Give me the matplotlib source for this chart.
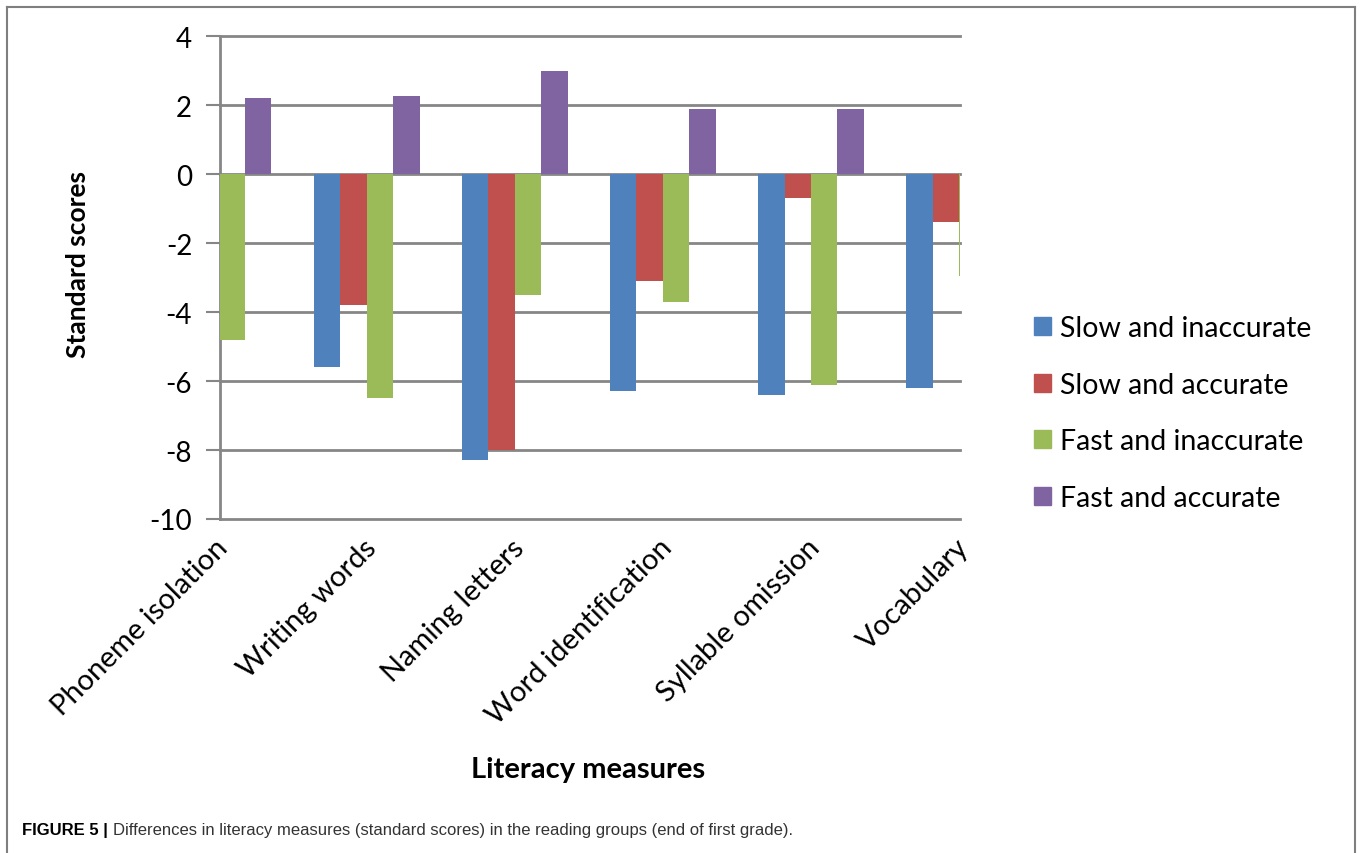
import matplotlib.pyplot as plt
import numpy as np
from matplotlib.lines import Line2D
from matplotlib.patches import Patch
from matplotlib.transforms import blended_transform_factory

# values; nan where the bar falls outside the plot area
measures = ["Phoneme isolation", "Writing words", "Naming letters",
            "Word identification", "Syllable omission", "Vocabulary"]
groups = ["Slow and inaccurate", "Slow and accurate",
          "Fast and inaccurate", "Fast and accurate"]
slow_inaccurate = [np.nan, -5.6, -8.3, -6.3, -6.4, -6.2]
slow_accurate = [np.nan, -3.8, -8.0, -3.1, -0.7, -1.4]
fast_inaccurate = [-4.8, -6.5, -3.5, -3.7, -6.1, -2.95]
fast_accurate = [2.2, 2.27, 3.0, 1.9, 1.9, np.nan]
yticks = [4, 2, 0, -2, -4, -6, -8, -10]

colors = ["#4F81BD", "#C0504D", "#9BBB59", "#8064A2"]
grid_col = "#868686"
font = ["Lato", "DejaVu Sans"]

W, H = 1360, 854
fig = plt.figure(figsize=(W / 100, H / 100), dpi=100)
ax = fig.add_axes([220 / W, 1 - 520 / H, 740 / W, 482.7 / H])

x = np.arange(len(measures))
w = 0.1786
series = [slow_inaccurate, slow_accurate, fast_inaccurate, fast_accurate]
for k, (vals, c) in enumerate(zip(series, colors)):
    ax.bar(x + (k - 1.5) * w, vals, width=w, color=c, zorder=3)

ax.set_xlim(0.01, 5.006)
ax.set_ylim(-10, 4)
ax.set_yticks(yticks)
ax.set_yticklabels([str(t) for t in yticks], fontsize=20, family=font)
for t in yticks:
    ax.axhline(t, color=grid_col, linewidth=2, zorder=1, clip_on=False)
ax.tick_params(axis="y", length=10, width=1.5, color=grid_col, pad=10)
ax.tick_params(axis="x", length=0, labelbottom=False)
for s in ["top", "right", "bottom"]:
    ax.spines[s].set_visible(False)
ax.spines["left"].set_color(grid_col)
ax.spines["left"].set_linewidth(2)

trans = blended_transform_factory(ax.transData, ax.transAxes)
for i, name in enumerate(measures):
    ax.text(i + 0.035, -0.05, name, transform=trans, rotation=45,
            ha="right", va="center", rotation_mode="anchor", fontsize=21,
            family=font, clip_on=False)

fig.text(78 / W, 1 - 265 / H, "Standard scores", rotation=90,
         ha="center", va="center", fontsize=19, fontweight="bold",
         family=font)
fig.text(588 / W, 1 - 770 / H, "Literacy measures", ha="center",
         va="center", fontsize=21, fontweight="bold", family=font)

handles = [Patch(color=c) for c in colors]
fig.legend(handles, groups, loc="center left",
           bbox_to_anchor=(1034 / W, 1 - 414 / H), frameon=False,
           prop={"family": font, "size": 20.5}, handlelength=0.6,
           handleheight=0.6, handletextpad=0.3, labelspacing=1.07,
           borderpad=0, borderaxespad=0)

cap_font = ["Liberation Sans Narrow", "Liberation Sans"]
t = fig.text(22 / W, 1 - 831 / H, "FIGURE 5 |", ha="left", va="center",
             fontsize=12, fontweight="bold", family=cap_font)
fig.canvas.draw()
bb = t.get_window_extent()
fig.text((bb.x1 + 5) / W, 1 - 831 / H,
         "Differences in literacy measures (standard scores) in the "
         "reading groups (end of first grade).", ha="left", va="center",
         fontsize=12, family=cap_font, color="#333333")

# outer frame
for xs, ys in [([7, 7], [8, 853]), ([7, 1355], [8, 8]),
               ([1355, 1355], [8, 853])]:
    fig.add_artist(Line2D([v / W for v in xs], [1 - v / H for v in ys],
                          color="#7f7f7f", linewidth=1.5))

fig.savefig("out.png", dpi=100)
